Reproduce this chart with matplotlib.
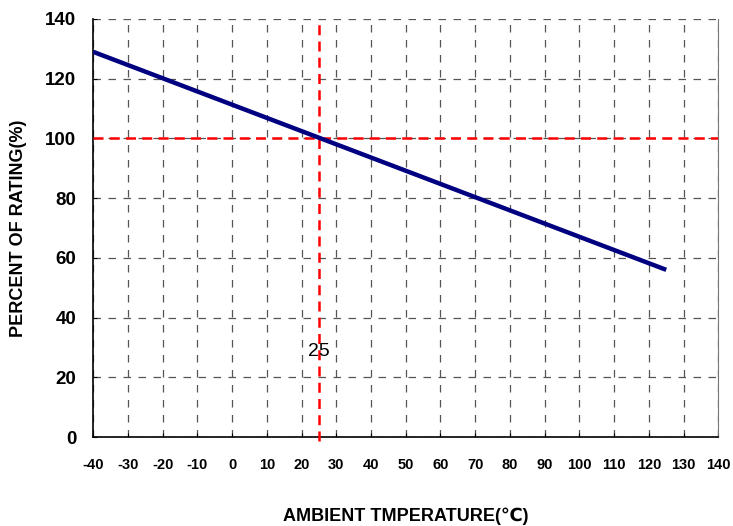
import numpy as np
import matplotlib.pyplot as plt

plt.rcParams['font.family'] = ['Liberation Sans', 'DejaVu Sans']

temp = [-40, 125]
rating = [129.0, 56.0]
xticks = list(range(-40, 141, 10))
yticks = list(range(0, 141, 20))

fig = plt.figure(figsize=(7.33, 5.26), dpi=100)
ax = fig.add_axes([0.127, 0.169, 0.853, 0.795])

ax.set_xlim(-40, 140)
ax.set_ylim(0, 140)
ax.set_xticks(xticks)
ax.set_yticks(yticks)
ax.set_xticklabels([str(v) for v in xticks], fontsize=10.5, fontweight='bold')
ax.set_yticklabels([str(v) for v in yticks], fontsize=13.5, fontweight='bold')
ax.tick_params(direction='in', length=3, color='black')
ax.tick_params(axis='x', pad=15)
ax.tick_params(axis='y', pad=12)

ax.grid(True, color='#555555', linestyle=(0, (6, 6)), linewidth=0.9)
ax.spines['top'].set_visible(False)
ax.spines['right'].set_color('#777777')
ax.spines['left'].set_linewidth(1.2)
ax.spines['bottom'].set_linewidth(1.2)

ax.axhline(100, color='red', linestyle=(0, (4, 2.5)), linewidth=1.8, zorder=3)
ax.axvline(25, ymin=-0.01, ymax=1, color='red', linestyle=(0, (4, 2.5)), linewidth=1.8, zorder=3, clip_on=False)

ax.plot(temp, rating, color='#000080', linewidth=3.2, zorder=4, solid_capstyle='butt')

ax.text(25, 28.8, '25', ha='center', va='center', fontsize=14, zorder=5)

ax.set_ylabel('PERCENT OF RATING(%)', fontsize=13, fontweight='bold', labelpad=13.5)
fig.text(0.553, 0.019, 'AMBIENT TMPERATURE(℃)', ha='center', va='center',
         fontsize=13, fontweight='bold')

fig.savefig('out.png', dpi=100)
